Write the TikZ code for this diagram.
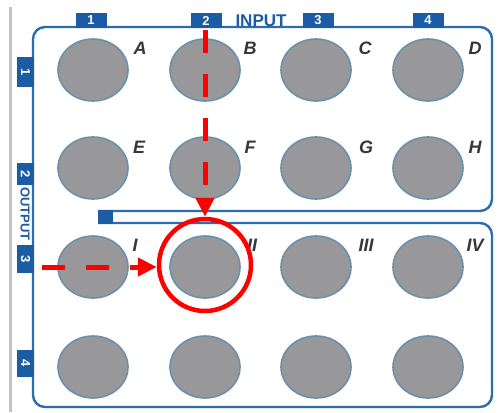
\documentclass[tikz,border=0pt]{standalone}
\usepackage{fontspec}
\setmainfont{Liberation Sans}
\usetikzlibrary{shapes.geometric,arrows.meta}
\definecolor{tabblue}{RGB}{27,92,165}
\definecolor{panelblue}{RGB}{45,108,176}
\definecolor{jackgray}{RGB}{152,152,154}
\definecolor{jackedge}{RGB}{105,145,172}
\definecolor{lbl}{RGB}{55,55,58}
\definecolor{sidegray}{RGB}{195,195,195}
\tikzset{
  panel/.style={draw=panelblue, line width=2.4pt},
  jack/.style={ellipse, fill=jackgray, draw=jackedge, line width=1.6pt, minimum width=70pt, minimum height=62pt, inner sep=0pt},
  tabh/.style={fill=tabblue, text=white, font=\bfseries\fontsize{13}{13}\selectfont, minimum width=31pt, minimum height=15pt, inner sep=0pt},
  tabv/.style={fill=tabblue, text=white, font=\bfseries\fontsize{13}{13}\selectfont, rotate=-90, inner sep=0pt},
  lab/.style={text=lbl, font=\bfseries\itshape\fontsize{18}{18}\selectfont, inner sep=0pt},
  redarrow/.style={draw=red, line width=5pt, dash pattern=on 23pt off 21pt, -{Triangle[length=19pt, width=18pt]}},
  ring/.style={circle, draw=red, line width=4.5pt, minimum size=92pt, inner sep=0pt}
}
\begin{document}
\begin{tikzpicture}[x=1pt, y=-1pt]
\useasboundingbox[fill=white] (0,0) rectangle (502,412);
% side gray line
\coordinate (gtop) at (10,7);
\coordinate (gbot) at (10,412);
\draw[sidegray, line width=3pt] (gtop) -- (gbot);
% panel outline with slot
\draw[panel, rounded corners=12pt] (98,211) -- (492,211) -- (492,27) -- (33,27) -- (33,407) -- (492,407) -- (492,223) -- (98,223);
\node[fill=tabblue, minimum width=15pt, minimum height=14pt, inner sep=0pt] (slot) at (105.5,217) {};
% input tabs
\node[tabh] (in1) at (91,20.5) {1};
\node[tabh] (in2) at (206,20.5) {2};
\node[tabh] (in3) at (318,20.5) {3};
\node[tabh] (in4) at (428,20.5) {4};
\node[text=tabblue, font=\bfseries\fontsize{17}{17}\selectfont, inner sep=0pt] (input) at (261,20.5) {INPUT};
% output tabs
\node[tabv, minimum width=30pt, minimum height=17pt] (out1) at (25.5,72) {1};
\node[tabv, minimum width=22pt, minimum height=17pt] (out2) at (25.5,174) {2};
\node[tabv, minimum width=28pt, minimum height=17pt] (out3) at (25.5,259) {3};
\node[tabv, minimum width=27pt, minimum height=17pt] (out4) at (25.5,363.5) {4};
\node[text=tabblue, font=\bfseries\fontsize{13}{13}\selectfont, rotate=-90, inner sep=0pt] (output) at (25,214) {OUTPUT};
% jacks
\foreach \c/\x in {1/93,2/205,3/316,4/428}{
  \foreach \r/\y in {1/70,2/168,3/267,4/367}{
    \node[jack] (j\r\c) at (\x,\y) {};
  }
}
% labels
\node[lab] (la) at (140,48) {A};
\node[lab] (lb) at (250,48) {B};
\node[lab] (lc) at (365,48) {C};
\node[lab] (ld) at (475,48) {D};
\node[lab] (le) at (139,147) {E};
\node[lab] (lf) at (250,147) {F};
\node[lab] (lg) at (366,147) {G};
\node[lab] (lh) at (475,147) {H};
\node[lab] (li) at (135,245) {I};
\node[lab] (lii) at (252,245) {II};
\node[lab] (liii) at (366,245) {III};
\node[lab] (liv) at (475,245) {IV};
% red highlight
\node[ring] (ring) at (205,265) {};
\coordinate (vstart) at (205,30);
\coordinate (hstart) at (42,267);
\draw[redarrow] (vstart) -- (ring.north);
\draw[redarrow] (hstart) -- (ring.west |- hstart);
\end{tikzpicture}
\end{document}
